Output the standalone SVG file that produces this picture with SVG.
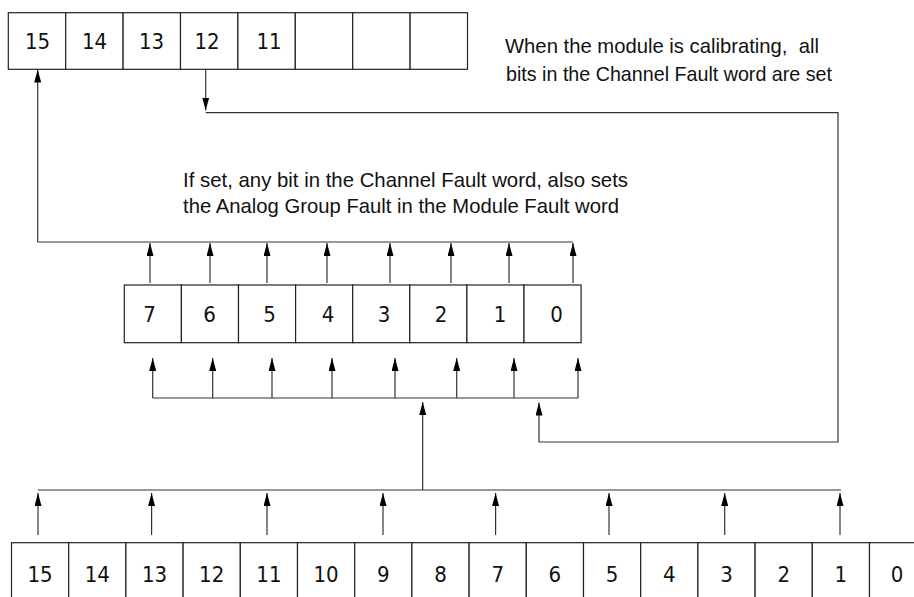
<svg xmlns="http://www.w3.org/2000/svg" width="914" height="597" viewBox="0 0 914 597">
<defs>
<style>
.cell{fill:#fff;stroke:#222;stroke-width:1.2}
.num{font-family:"Liberation Sans Narrow","DejaVu Sans Condensed","Liberation Sans",sans-serif;font-size:22px;fill:#111;text-anchor:middle}
.note{font-family:"Liberation Sans","Noto Sans",sans-serif;font-size:21px;fill:#111}
.wire{fill:none;stroke:#333;stroke-width:1.2}
.arr{fill:none;stroke:#333;stroke-width:1.2;marker-end:url(#ah)}
</style>
<marker id="ah" viewBox="0 0 13 7" markerWidth="13" markerHeight="7" refX="13" refY="3.5" orient="auto" markerUnits="userSpaceOnUse">
<path d="M0,0 L13,3.5 L0,7 z" fill="#000"/>
</marker>
</defs>
<rect width="914" height="597" fill="#fff"/>

<g id="module-fault-word">
<rect class="cell" x="8.3" y="12.7" width="57.4" height="56.6"/>
<rect class="cell" x="65.7" y="12.7" width="57.4" height="56.6"/>
<rect class="cell" x="123.1" y="12.7" width="57.4" height="56.6"/>
<rect class="cell" x="180.5" y="12.7" width="57.4" height="56.6"/>
<rect class="cell" x="237.9" y="12.7" width="57.4" height="56.6"/>
<rect class="cell" x="295.3" y="12.7" width="57.4" height="56.6"/>
<rect class="cell" x="352.7" y="12.7" width="57.4" height="56.6"/>
<rect class="cell" x="410.1" y="12.7" width="57.4" height="56.6"/>
<text class="num" x="37.5" y="48.5">15</text>
<text class="num" x="94.5" y="48.5">14</text>
<text class="num" x="151.5" y="48.5">13</text>
<text class="num" x="207" y="48.5">12</text>
<text class="num" x="269" y="48.5">11</text>
</g>

<g id="channel-fault-word">
<rect class="cell" x="124.3" y="285" width="57.1" height="57.7"/>
<rect class="cell" x="181.4" y="285" width="57.1" height="57.7"/>
<rect class="cell" x="238.5" y="285" width="57.1" height="57.7"/>
<rect class="cell" x="295.6" y="285" width="57.1" height="57.7"/>
<rect class="cell" x="352.7" y="285" width="57.1" height="57.7"/>
<rect class="cell" x="409.8" y="285" width="57.1" height="57.7"/>
<rect class="cell" x="466.9" y="285" width="57.1" height="57.7"/>
<rect class="cell" x="524" y="285" width="57.1" height="57.7"/>
<text class="num" x="149.5" y="321.5">7</text>
<text class="num" x="209.5" y="321.5">6</text>
<text class="num" x="269.5" y="321.5">5</text>
<text class="num" x="328" y="321.5">4</text>
<text class="num" x="384" y="321.5">3</text>
<text class="num" x="441" y="321.5">2</text>
<text class="num" x="500" y="321.5">1</text>
<text class="num" x="556.5" y="321.5">0</text>
</g>

<g id="channel-status-word">
<rect class="cell" x="11.5" y="542.7" width="57.2" height="60"/>
<rect class="cell" x="68.7" y="542.7" width="57.2" height="60"/>
<rect class="cell" x="125.9" y="542.7" width="57.2" height="60"/>
<rect class="cell" x="183.1" y="542.7" width="57.2" height="60"/>
<rect class="cell" x="240.3" y="542.7" width="57.2" height="60"/>
<rect class="cell" x="297.5" y="542.7" width="57.2" height="60"/>
<rect class="cell" x="354.7" y="542.7" width="57.2" height="60"/>
<rect class="cell" x="411.9" y="542.7" width="57.2" height="60"/>
<rect class="cell" x="469.1" y="542.7" width="57.2" height="60"/>
<rect class="cell" x="526.3" y="542.7" width="57.2" height="60"/>
<rect class="cell" x="583.5" y="542.7" width="57.2" height="60"/>
<rect class="cell" x="640.7" y="542.7" width="57.2" height="60"/>
<rect class="cell" x="697.9" y="542.7" width="57.2" height="60"/>
<rect class="cell" x="755.1" y="542.7" width="57.2" height="60"/>
<rect class="cell" x="812.3" y="542.7" width="57.2" height="60"/>
<rect class="cell" x="869.5" y="542.7" width="57.2" height="60"/>
<text class="num" x="40.1" y="582">15</text>
<text class="num" x="97.3" y="582">14</text>
<text class="num" x="154.5" y="582">13</text>
<text class="num" x="211.7" y="582">12</text>
<text class="num" x="268.9" y="582">11</text>
<text class="num" x="326.1" y="582">10</text>
<text class="num" x="383.3" y="582">9</text>
<text class="num" x="440.5" y="582">8</text>
<text class="num" x="497.7" y="582">7</text>
<text class="num" x="554.9" y="582">6</text>
<text class="num" x="612.1" y="582">5</text>
<text class="num" x="669.3" y="582">4</text>
<text class="num" x="726.5" y="582">3</text>
<text class="num" x="783.7" y="582">2</text>
<text class="num" x="840.9" y="582">1</text>
<text class="num" x="897" y="582">0</text>
</g>

<g id="note-calibrating">
<text class="note" x="505" y="53.3" textLength="314" lengthAdjust="spacingAndGlyphs" xml:space="preserve">When the module is calibrating,  all</text>
<text class="note" x="506" y="80.5" textLength="326" lengthAdjust="spacingAndGlyphs">bits in the Channel Fault word are set</text>
</g>

<g id="note-analog-group">
<text class="note" x="183" y="186.7" textLength="445" lengthAdjust="spacingAndGlyphs">If set, any bit in the Channel Fault word, also sets</text>
<text class="note" x="183" y="213" textLength="436" lengthAdjust="spacingAndGlyphs">the Analog Group Fault in the Module Fault word</text>
</g>

<g id="connectors">
<line class="arr" x1="37.7" y1="242" x2="37.7" y2="69.5"/>
<line class="wire" x1="37.7" y1="242" x2="573" y2="242"/>
<line class="arr" x1="150" y1="283" x2="150" y2="243"/>
<line class="arr" x1="210" y1="283" x2="210" y2="243"/>
<line class="arr" x1="267" y1="283" x2="267" y2="243"/>
<line class="arr" x1="327" y1="283" x2="327" y2="243"/>
<line class="arr" x1="390" y1="283" x2="390" y2="243"/>
<line class="arr" x1="451" y1="283" x2="451" y2="243"/>
<line class="arr" x1="509" y1="283" x2="509" y2="243"/>
<line class="arr" x1="573" y1="283" x2="573" y2="243"/>

<line class="wire" x1="152.7" y1="398" x2="578" y2="398"/>
<line class="arr" x1="152.7" y1="398" x2="152.7" y2="358"/>
<line class="arr" x1="212.7" y1="398" x2="212.7" y2="358"/>
<line class="arr" x1="272" y1="398" x2="272" y2="358"/>
<line class="arr" x1="332" y1="398" x2="332" y2="358"/>
<line class="arr" x1="395" y1="398" x2="395" y2="358"/>
<line class="arr" x1="456.7" y1="398" x2="456.7" y2="358"/>
<line class="arr" x1="514" y1="398" x2="514" y2="358"/>
<line class="arr" x1="578" y1="398" x2="578" y2="358"/>

<line class="arr" x1="422.7" y1="490" x2="422.7" y2="402"/>
<line class="wire" x1="38" y1="490" x2="841" y2="490"/>
<line class="arr" x1="38" y1="535" x2="38" y2="493"/>
<line class="arr" x1="151.6" y1="535" x2="151.6" y2="493"/>
<line class="arr" x1="267" y1="535" x2="267" y2="493"/>
<line class="arr" x1="383" y1="535" x2="383" y2="493"/>
<line class="arr" x1="495.6" y1="535" x2="495.6" y2="493"/>
<line class="arr" x1="609" y1="535" x2="609" y2="493"/>
<line class="arr" x1="724.7" y1="535" x2="724.7" y2="493"/>
<line class="arr" x1="840" y1="535" x2="840" y2="493"/>

<line class="arr" x1="205.7" y1="69.3" x2="205.7" y2="110.5"/>
<polyline class="arr" points="205.7,112.7 838,112.7 838,442 539,442 539,402.5"/>
</g>
</svg>
